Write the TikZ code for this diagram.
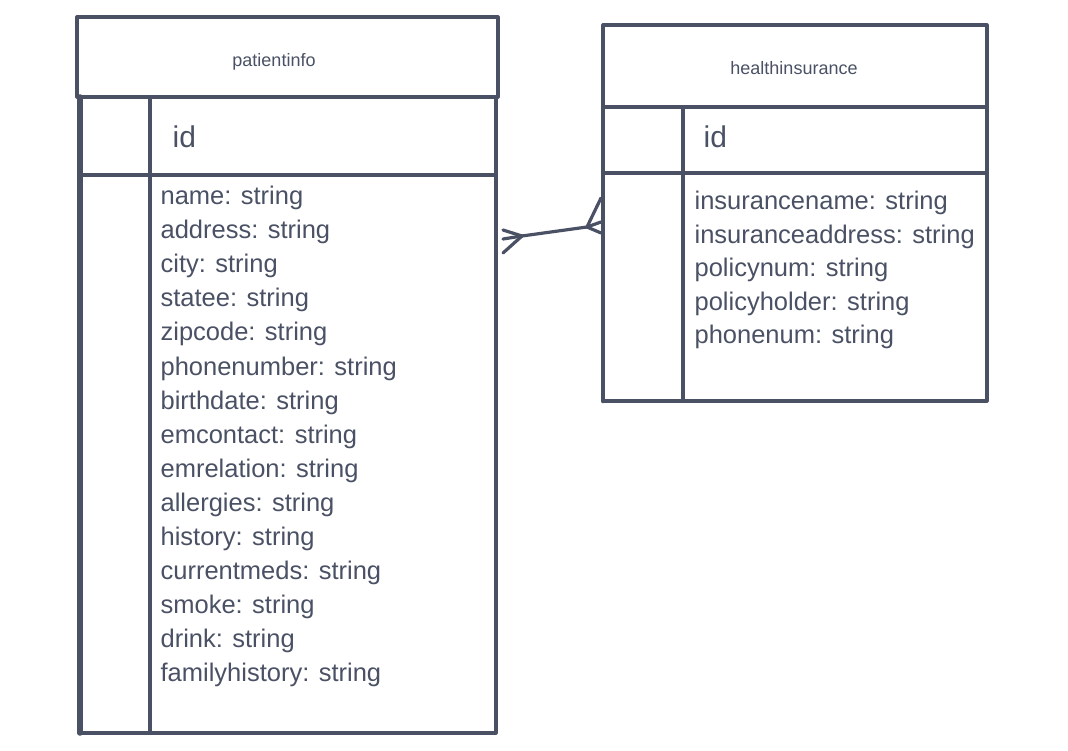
\documentclass[tikz,border=0pt]{standalone}
\usepackage{fontspec}
\setmainfont{Liberation Sans}
\usetikzlibrary{positioning}
\definecolor{ink}{RGB}{74,81,100}

\begin{document}
\begin{tikzpicture}[x=1pt,y=-1pt,color=ink,line width=3.2pt,line join=round,line cap=round,
    every node/.style={inner sep=0pt,anchor=base west},
    field/.style={font=\fontsize{25.5}{30}\selectfont},
    keyname/.style={font=\fontsize{30}{34}\selectfont},
    title/.style={font=\fontsize{18}{20}\selectfont,anchor=base}]
  \useasboundingbox (0,0) rectangle (1068,751);

  % patientinfo table
  \draw (77,17) rectangle (498,97);
  \draw (80,97) rectangle (496,733);
  \draw (150,97) -- (150,733);
  \draw (80,175) -- (496,175);
  \draw[line width=5.5pt] (80,97) -- (80,733);
  \node[title] (ptitle) at (274,67) {patientinfo};
  \node[keyname] (pid) at (171,148) {id};
  \foreach \f [count=\i from 0] in {name,address,city,statee,zipcode,phonenumber,birthdate,emcontact,emrelation,allergies,history,currentmeds,smoke,drink,familyhistory}
    \node[field] (p\i) at (159,205+34*\i) {\f: string};

  % healthinsurance table
  \draw (603,25) rectangle (987,107);
  \draw (603,107) rectangle (987,401);
  \draw (683,107) -- (683,401);
  \draw (603,173) -- (987,173);
  \draw[line width=4.5pt] (603,107) -- (603,401);
  \node[title] (htitle) at (794,75) {healthinsurance};
  \node[keyname] (hid) at (702,148) {id};
  \foreach \f [count=\i from 0] in {insurancename,insuranceaddress,policynum,policyholder,phonenum}
    \node[field] (h\i) at (693,210+33.4*\i) {\f: string};

  % relation (crow's foot at both ends)
  \coordinate (pcrow) at (522,236);
  \coordinate (hcrow) at (587,227);
  \draw (pcrow) -- (hcrow);
  \foreach \y in {230,239,253}
    \draw (pcrow) -- (503,\y);
  \foreach \y in {198,222,233}
    \draw (hcrow) -- (601,\y);
\end{tikzpicture}
\end{document}
